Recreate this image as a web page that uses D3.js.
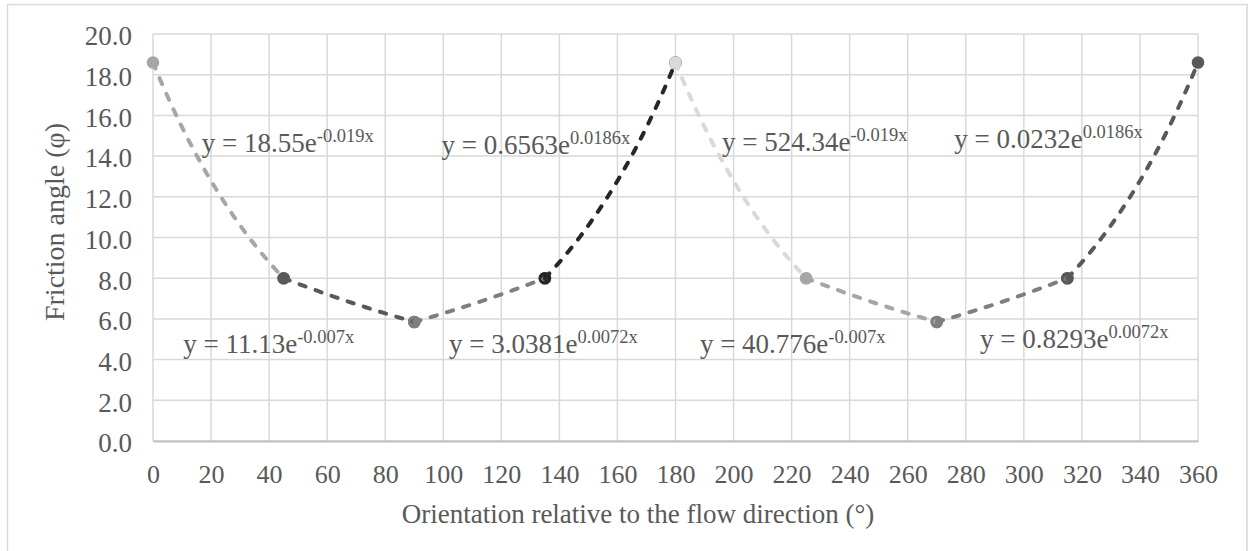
<!DOCTYPE html>
<html>
<head>
<meta charset="utf-8">
<script src="https://cdn.jsdelivr.net/npm/d3@7"></script>
<style>
  html, body { margin: 0; padding: 0; background: #fff; }
  svg { display: block; }
  text { font-family: "Liberation Serif", "Times New Roman", serif; fill: #595959; }
</style>
</head>
<body>
<svg id="chart" width="1249" height="551" font-family="Liberation Serif, Times New Roman, serif"></svg>
<script>
// Measured friction angle at each orientation
const orientations = [0, 45, 90, 135, 180, 225, 270, 315, 360];
const frictionAngles = [18.6, 8.0, 5.85, 8.0, 18.6, 8.0, 5.85, 8.0, 18.6];

// Each segment (pair of neighbouring points) is its own series with an exponential trendline
const seriesColors = ["#a6a6a6", "#595959", "#7f7f7f", "#262626", "#d9d9d9", "#a6a6a6", "#7f7f7f", "#595959"];

// Trendline equations as reported: y = a·e^(bx)
const eqCoefficients = ["18.55", "11.13", "3.0381", "0.6563", "524.34", "40.776", "0.8293", "0.0232"];
const eqExponents = ["-0.019x", "-0.007x", "0.0072x", "0.0186x", "-0.019x", "-0.007x", "0.0072x", "0.0186x"];

// Axis ticks
const xTicks = d3.range(0, 361, 20);
const yTicks = d3.range(0, 20.001, 2);

// Where each equation label sits, in data units (left edge, baseline)
const eqAnchors = [[16.8, 14.22], [10.4, 4.31], [102, 4.31], [99.4, 14.1],
                   [196, 14.25], [188.4, 4.32], [284.9, 4.57], [276, 14.4]];

const W = 1249, H = 551;
const margin = { top: 34, right: 51, bottom: 110, left: 153 };
const svg = d3.select("#chart");
const serif = "Liberation Serif, Times New Roman, serif";

// outer chart border
svg.append("rect")
  .attr("x", 7.5).attr("y", 4.5)
  .attr("width", 1239.5).attr("height", H + 10)
  .attr("fill", "none").attr("stroke", "#d9d9d9").attr("stroke-width", 1.5);

const x = d3.scaleLinear().domain([0, 360]).range([margin.left, W - margin.right]);
const y = d3.scaleLinear().domain([0, 20]).range([H - margin.bottom, margin.top]);

// gridlines
const grid = svg.append("g");
grid.selectAll("line.v").data(xTicks).join("line")
  .attr("x1", d => x(d)).attr("x2", d => x(d))
  .attr("y1", y(0)).attr("y2", y(20))
  .attr("stroke", "#d9d9d9").attr("stroke-width", 1.5);
grid.selectAll("line.h").data(yTicks).join("line")
  .attr("x1", x(0)).attr("x2", x(360))
  .attr("y1", d => y(d)).attr("y2", d => y(d))
  .attr("stroke", "#d9d9d9").attr("stroke-width", 1.5);

// x axis
const xAxis = svg.append("g")
  .attr("transform", `translate(0,${y(0)})`)
  .call(d3.axisBottom(x).tickValues(xTicks).tickSize(0).tickPadding(24).tickFormat(d3.format("d")))
  .attr("font-family", serif);
xAxis.select(".domain").attr("stroke", "#bfbfbf").attr("stroke-width", 2);
xAxis.selectAll("text").style("font-size", "26px").attr("fill", "#595959");

// y axis
const yAxis = svg.append("g")
  .attr("transform", `translate(${x(0)},0)`)
  .call(d3.axisLeft(y).tickValues(yTicks).tickSize(0).tickPadding(21).tickFormat(d3.format(".1f")))
  .attr("font-family", serif);
yAxis.select(".domain").remove();
yAxis.selectAll("text").style("font-size", "27px").attr("fill", "#595959").attr("dy", "0.4em");

// axis titles
svg.append("text")
  .attr("x", 638).attr("y", 523)
  .attr("text-anchor", "middle").style("font-size", "27px")
  .text("Orientation relative to the flow direction (°)");
svg.append("text")
  .attr("transform", `translate(64,222) rotate(-90)`)
  .attr("text-anchor", "middle").style("font-size", "28px")
  .text("Friction angle (φ)");

const segments = d3.range(orientations.length - 1).map(i => ({
  i,
  x0: orientations[i], y0: frictionAngles[i],
  x1: orientations[i + 1], y1: frictionAngles[i + 1],
  color: seriesColors[i]
}));

// markers: each series draws both of its points, later series on top
const markers = svg.append("g");
segments.forEach(s => {
  markers.selectAll(null).data([[s.x0, s.y0], [s.x1, s.y1]]).join("circle")
    .attr("cx", d => x(d[0])).attr("cy", d => y(d[1]))
    .attr("r", 6.3).attr("fill", s.color);
});

// exponential trendline through each pair of points
const line = d3.line().x(d => x(d[0])).y(d => y(d[1]));
const trends = svg.append("g");
segments.forEach(s => {
  const b = Math.log(s.y1 / s.y0) / (s.x1 - s.x0);
  const a = s.y0 * Math.exp(-b * s.x0);
  const pts = d3.range(0, 61).map(k => {
    const xv = s.x0 + (s.x1 - s.x0) * k / 60;
    return [xv, a * Math.exp(b * xv)];
  });
  trends.append("path")
    .attr("d", line(pts))
    .attr("fill", "none").attr("stroke", s.color)
    .attr("stroke-width", 4).attr("stroke-linecap", "round")
    .attr("stroke-dasharray", "6.5,10.5");
});

// trendline equations
const labels = svg.append("g");
eqCoefficients.forEach((c, i) => {
  const t = labels.append("text")
    .attr("x", x(eqAnchors[i][0])).attr("y", y(eqAnchors[i][1]))
    .style("font-size", "27px");
  t.append("tspan").text(`y = ${c}e`);
  t.append("tspan").attr("dy", -10).style("font-size", "18.5px").text(eqExponents[i]);
});
</script>
</body>
</html>
